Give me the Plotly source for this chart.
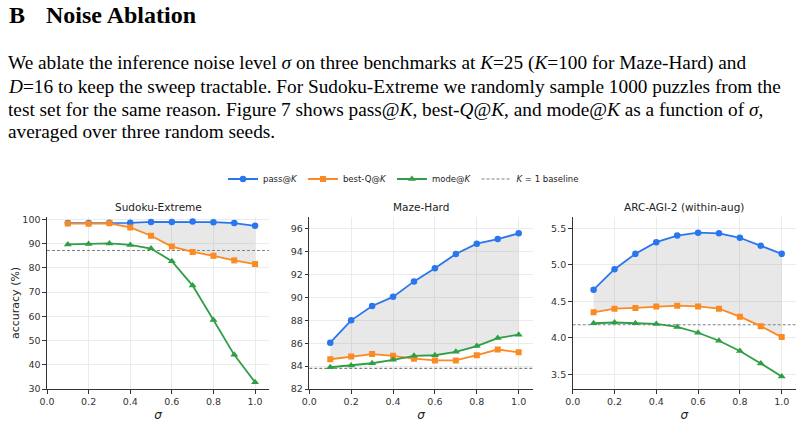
import plotly.graph_objects as go

W, H = 807, 422

sigma = [0.1, 0.2, 0.3, 0.4, 0.5, 0.6, 0.7, 0.8, 0.9, 1.0]

sudoku_pass = [98.5, 98.5, 98.7, 98.6, 99.0, 99.0, 99.2, 98.9, 98.5, 97.4]
sudoku_bestq = [98.3, 98.2, 98.4, 96.7, 93.3, 88.8, 86.6, 85.0, 83.1, 81.6]
sudoku_mode = [89.7, 89.9, 90.1, 89.5, 88.0, 82.8, 72.7, 58.5, 44.1, 32.8]
sudoku_base = 87.2

maze_pass = [86.05, 88.0, 89.25, 90.05, 91.4, 92.55, 93.8, 94.7, 95.1, 95.6]
maze_bestq = [84.6, 84.85, 85.05, 84.9, 84.65, 84.5, 84.5, 84.95, 85.45, 85.2]
maze_mode = [83.9, 84.05, 84.25, 84.55, 84.9, 84.95, 85.25, 85.75, 86.45, 86.75]
maze_base = 83.8

arc_pass = [4.66, 4.94, 5.15, 5.31, 5.40, 5.44, 5.43, 5.37, 5.26, 5.15]
arc_bestq = [4.35, 4.40, 4.41, 4.43, 4.44, 4.43, 4.40, 4.29, 4.16, 4.01]
arc_mode = [4.20, 4.21, 4.20, 4.19, 4.15, 4.07, 3.96, 3.82, 3.65, 3.47]
arc_base = 4.18

titles = ["Sudoku-Extreme", "Maze-Hard", "ARC-AGI-2 (within-aug)"]
yranges = [(30, 100.9), (82, 97), (3.3, 5.65)]
ytick_vals = [[30, 40, 50, 60, 70, 80, 90, 100],
              [82, 84, 86, 88, 90, 92, 94, 96],
              [3.5, 4.0, 4.5, 5.0, 5.5]]
ytick_fmt = ["d", "d", ".1f"]
xticks = [0.0, 0.2, 0.4, 0.6, 0.8, 1.0]
XMAX = 1.067

panels = [
    (sudoku_pass, sudoku_bestq, sudoku_mode, sudoku_base),
    (maze_pass, maze_bestq, maze_mode, maze_base),
    (arc_pass, arc_bestq, arc_mode, arc_base),
]

BLUE = "#2a76ee"
ORANGE = "#fb8a22"
GREEN = "#2f9e45"
GRAYLINE = "#808080"

# pixel layout
xdom_px = [(47, 269), (309.3, 532.7), (572.7, 795.7)]
ydom_px = (217.3, 389)

fig = go.Figure()

for i, (p, q, m, b) in enumerate(panels):
    xa = "x" if i == 0 else f"x{i+1}"
    ya = "y" if i == 0 else f"y{i+1}"
    lower = [max(a, c) for a, c in zip(q, m)]
    fig.add_trace(go.Scatter(
        x=sigma + sigma[::-1], y=p + lower[::-1], fill="toself",
        fillcolor="rgba(150,150,150,0.22)", line=dict(width=0),
        mode="lines", hoverinfo="skip", showlegend=False, xaxis=xa, yaxis=ya))
    fig.add_trace(go.Scatter(
        x=[0, XMAX], y=[b, b], mode="lines",
        line=dict(color=GRAYLINE, width=1.1, dash="3px,2px"),
        name="<i>K</i> = 1 baseline", legendrank=4,
        showlegend=(i == 0), xaxis=xa, yaxis=ya))
    fig.add_trace(go.Scatter(
        x=sigma, y=p, mode="lines+markers", name="pass@<i>K</i>", legendrank=1,
        line=dict(color=BLUE, width=1.8),
        marker=dict(symbol="circle", size=6.5, color=BLUE),
        showlegend=(i == 0), xaxis=xa, yaxis=ya))
    fig.add_trace(go.Scatter(
        x=sigma, y=q, mode="lines+markers", name="best-Q@<i>K</i>", legendrank=2,
        line=dict(color=ORANGE, width=1.8),
        marker=dict(symbol="square", size=6, color=ORANGE),
        showlegend=(i == 0), xaxis=xa, yaxis=ya))
    fig.add_trace(go.Scatter(
        x=sigma, y=m, mode="lines+markers", name="mode@<i>K</i>", legendrank=3,
        line=dict(color=GREEN, width=1.8),
        marker=dict(symbol="triangle-up", size=7, color=GREEN),
        showlegend=(i == 0), xaxis=xa, yaxis=ya))

axis_common = dict(
    showline=True, linecolor="#333333", linewidth=1.2, mirror=False,
    ticks="outside", ticklen=3.5, tickwidth=1, tickcolor="#333333",
    showgrid=True, gridcolor="#ebebeb", gridwidth=1, zeroline=False,
    automargin=False,
    tickfont=dict(family="DejaVu Sans", size=9.5, color="#333333"),
)

layout = dict(
    width=W, height=H, margin=dict(l=0, r=0, t=0, b=0, autoexpand=False),
    paper_bgcolor="white", plot_bgcolor="white",
    showlegend=True,
    legend=dict(orientation="h", x=0.5, xanchor="center",
                y=1 - 179 / H, yanchor="middle",
                font=dict(family="DejaVu Sans", size=8.5, color="#222222"),
                itemwidth=30, bgcolor="rgba(0,0,0,0)", traceorder="normal"),
)

annotations = []
for i in range(3):
    xk = "xaxis" if i == 0 else f"xaxis{i+1}"
    yk = "yaxis" if i == 0 else f"yaxis{i+1}"
    x0, x1 = xdom_px[i]
    layout[xk] = dict(
        domain=[x0 / W, x1 / W], range=[0, XMAX], tickvals=xticks,
        tickformat=".1f", anchor="y" if i == 0 else f"y{i+1}",
        title=dict(text="<i>σ</i>", font=dict(family="DejaVu Sans", size=12, color="#222222"), standoff=4),
        **axis_common)
    layout[yk] = dict(
        domain=[1 - ydom_px[1] / H, 1 - ydom_px[0] / H], range=list(yranges[i]),
        tickvals=ytick_vals[i], tickformat=ytick_fmt[i],
        anchor="x" if i == 0 else f"x{i+1}",
        **axis_common)
    annotations.append(dict(
        text=titles[i], xref="paper", yref="paper",
        x=(x0 + x1) / 2 / W, y=1 - 207.5 / H, xanchor="center", yanchor="middle",
        showarrow=False, font=dict(family="DejaVu Sans", size=10.5, color="#222222")))

# y-axis label of the first panel
annotations.append(dict(
    text="accuracy (%)", xref="paper", yref="paper", x=15 / W, y=1 - 303 / H,
    xanchor="center", yanchor="middle", textangle=-90, showarrow=False,
    font=dict(family="DejaVu Sans", size=11, color="#222222")))

# Header text
annotations.append(dict(
    text="<b>B</b>", xref="paper", yref="paper", x=7 / W, y=1 - 15 / H,
    xanchor="left", yanchor="middle", showarrow=False,
    font=dict(family="Liberation Serif", size=24, color="black")))
annotations.append(dict(
    text="<b>Noise Ablation</b>", xref="paper", yref="paper", x=44 / W, y=1 - 15 / H,
    xanchor="left", yanchor="middle", showarrow=False,
    font=dict(family="Liberation Serif", size=24, color="black")))

para_lines = [
    "We ablate the inference noise level <i>σ</i> on three benchmarks at <i>K</i>=25 (<i>K</i>=100 for Maze-Hard) and",
    "<i>D</i>=16 to keep the sweep tractable. For Sudoku-Extreme we randomly sample 1000 puzzles from the",
    "test set for the same reason. Figure 7 shows pass@<i>K</i>, best-<i>Q</i>@<i>K</i>, and mode@<i>K</i> as a function of <i>σ</i>,",
    "averaged over three random seeds.",
]
para_y = [63, 86, 109, 131]
for t, yy in zip(para_lines, para_y):
    annotations.append(dict(
        text=t, xref="paper", yref="paper", x=6 / W, y=1 - yy / H,
        xanchor="left", yanchor="middle", showarrow=False,
        font=dict(family="Liberation Serif", size=19.3, color="black")))

layout["annotations"] = annotations
fig.update_layout(**layout)

fig.write_html("out.html")
